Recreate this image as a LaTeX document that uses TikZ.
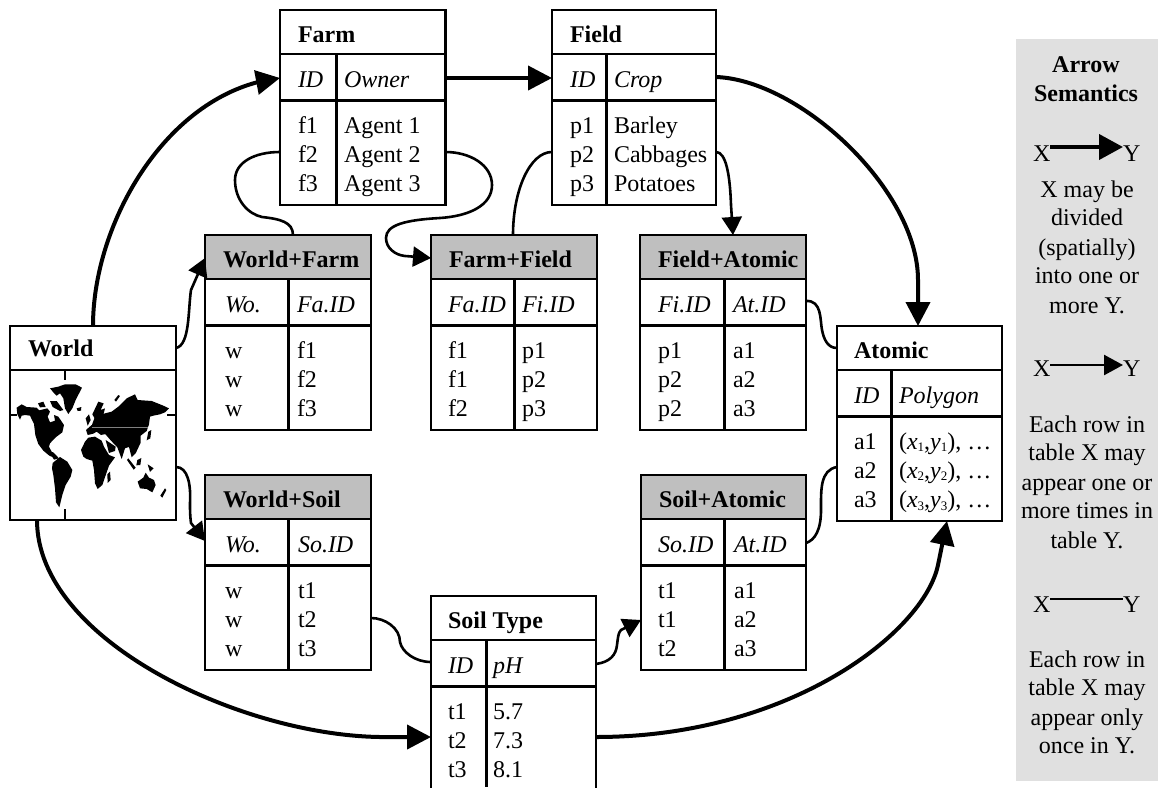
\documentclass[tikz,border=0pt]{standalone}
\usepackage{fontspec}
\setmainfont{Liberation Serif}
\usetikzlibrary{arrows.meta,bending}
\newif\ifopenb
\newcommand{\tframe}[9]{%name,left,top,right,divider,header fill,x title,x col1,x col2
  \gdef\Tn{#1}\gdef\Tt{#3}\gdef\Tc{#7}\gdef\Ta{#8}\gdef\Tb{#9}%
  \pgfmathsetmacro{\Tw}{#4-#2}%
  \ifopenb\pgfmathsetmacro{\Th}{787-#3}\else\pgfmathsetmacro{\Th}{195}\fi
  \node[tablebox,#6,minimum width=\Tw pt,minimum height=\Th pt] (#1) at (#2,#3) {};
  \draw[rule] (#1.south west) -- (#1.north west) -- (#1.north east) -- (#1.south east);
  \ifopenb\else\draw[rule] (#1.south west) -- (#1.south east);\fi
  \draw[rule] (#2,{#3+44}) -- (#4,{#3+44});
  \draw[thickrule] (#2,{#3+90}) -- (#4,{#3+90});
  \draw[thickrule] (#5,{#3+44}) -- (#5,#3+\Th);
}
\newcommand{\ttext}[9]{%title,h1,h2,a1,a2,a3,b1,b2,b3
  \node[cell,boldtext] (\Tn-title) at (\Tc,{\Tt+32}) {#1};
  \node[cell,itext] (\Tn-h1) at (\Ta,{\Tt+77}) {#2};
  \node[cell,itext] (\Tn-h2) at (\Tb,{\Tt+77}) {#3};
  \node[cell] (\Tn-a1) at (\Ta,{\Tt+123}) {#4};
  \node[cell] (\Tn-a2) at (\Ta,{\Tt+152}) {#5};
  \node[cell] (\Tn-a3) at (\Ta,{\Tt+181.5}) {#6};
  \node[cell] (\Tn-b1) at (\Tb,{\Tt+123}) {#7};
  \node[cell] (\Tn-b2) at (\Tb,{\Tt+152}) {#8};
  \node[cell] (\Tn-b3) at (\Tb,{\Tt+181.5}) {#9};
}
\newcommand{\subn}[1]{\raisebox{-2.5pt}{\fontsize{13}{13}\selectfont #1}}
\newcommand{\xy}[1]{(\textit{x}\subn{#1},\textit{y}\subn{#1}), …}
\definecolor{hdr}{HTML}{BFBFBF}
\definecolor{panel}{HTML}{E0E0E0}
\tikzset{
  tablebox/.style={anchor=north west,inner sep=0,outer sep=0},
  grayhdr/.style={},
  plainhdr/.style={},
  rule/.style={line width=2.5pt,line cap=rect},
  thickrule/.style={line width=3pt},
  cell/.style={anchor=base west,inner sep=0,outer sep=0},
  boldtext/.style={font=\fontsize{24}{29}\selectfont\bfseries},
  itext/.style={font=\fontsize{24}{29}\selectfont\itshape},
  ptext/.style={anchor=base,inner sep=0,outer sep=0},
  bigarrow/.style={line width=4pt,-{Triangle[length=24pt,width=24pt]}},
  smallarrow/.style={line width=2.6pt,-{Triangle[length=18pt,width=20pt]}},
  plainlink/.style={line width=2.6pt},
  land/.style={fill=black,draw=none},
}
\begin{document}
\begin{tikzpicture}[x=1pt,y=-1pt,font=\fontsize{24}{29}\selectfont]
\useasboundingbox (0,0) rectangle (1158,787);
\fill[panel] (1016,39) rectangle (1158,781);

% tables
\tframe{farm}{280}{10}{445.5}{336}{plainhdr}{298}{298}{344}
\ttext{Farm}{ID}{Owner}{f1}{f2}{f3}{Agent 1}{Agent 2}{Agent 3}
\tframe{field}{552}{10}{716}{606}{plainhdr}{570}{570}{614}
\ttext{Field}{ID}{Crop}{p1}{p2}{p3}{Barley}{Cabbages}{Potatoes}

\fill[hdr] (205,235) rectangle (371,279);
\fill[hdr] (431,235) rectangle (597,279);
\fill[hdr] (640,235) rectangle (806,279);
\fill[hdr] (205,475) rectangle (371,519);
\fill[hdr] (641,475) rectangle (806,519);

\tframe{wf}{205}{235}{371}{288}{grayhdr}{223}{225}{297}
\ttext{World+Farm}{Wo.}{Fa.ID}{w}{w}{w}{f1}{f2}{f3}
\tframe{ff}{431}{235}{597}{514}{grayhdr}{449}{448}{522}
\ttext{Farm+Field}{Fa.ID}{Fi.ID}{f1}{f1}{f2}{p1}{p2}{p3}
\tframe{fa}{640}{235}{806}{724}{grayhdr}{658}{658}{733}
\ttext{Field+Atomic}{Fi.ID}{At.ID}{p1}{p2}{p2}{a1}{a2}{a3}
\tframe{ws}{205}{475}{371}{288}{grayhdr}{223}{225}{298}
\ttext{World+Soil}{Wo.}{So.ID}{w}{w}{w}{t1}{t2}{t3}
\tframe{sa}{641}{475}{806}{724}{grayhdr}{659}{658}{734}
\ttext{Soil+Atomic}{So.ID}{At.ID}{t1}{t1}{t2}{a1}{a2}{a3}
\tframe{atomic}{837}{326}{1002}{891}{plainhdr}{854}{854}{899}
\ttext{Atomic}{ID}{Polygon}{a1}{a2}{a3}{\xy{1}}{\xy{2}}{\xy{3}}

\openbtrue
\tframe{soil}{431}{596}{596}{486}{plainhdr}{448}{448}{493}
\ttext{Soil Type}{ID}{pH}{t1}{t2}{t3}{5.7}{7.3}{8.1}
\openbfalse

% World table
\node[tablebox,draw=none,minimum width=166pt,minimum height=194pt] (world) at (10,326) {};
\draw[rule] (world.north west) rectangle (world.south east);
\draw[rule] (world.west |- 0,370) -- (world.east |- 0,370);
\node[cell,boldtext] (world-title) at (28,356) {World};
\draw[rule] (65,370) -- (65,379);
\draw[rule] (65,510) -- (65,520);
\draw[rule] (10,415) -- (16,415);
\draw[rule] (168,415) -- (176,415);

% map, western half
\begin{scope}[shift={(10,375)},x=0.3333pt,y=-0.3333pt]
\fill[land] (20,98)--(35,88)--(50,96)--(80,98)--(88,106)--(112,100)--(120,110)--(113,125)--(120,142)--(135,137)--(132,120)--(145,125)--(162,150)--(157,172)--(137,187)--(120,205)--(117,215)--(126,232)--(132,248)--(118,242)--(100,227)--(85,207)--(76,180)--(72,147)--(60,122)--(45,120)--(35,122)--(30,134)--(22,118)--cycle;
\fill[land] (120,40)--(145,35)--(165,28)--(197,28)--(216,38)--(197,75)--(187,100)--(175,117)--(165,100)--(160,70)--(150,55)--(140,62)--(130,52)--cycle;
\fill[land] (84,85)--(100,80)--(107,96)--(90,97)--cycle;
\fill[land] (120,78)--(140,78)--(160,105)--(150,108)--(128,96)--cycle;
\fill[land] (200,100)--(214,96)--(213,107)--(203,108)--cycle;
\fill[land] (128,264)--(150,246)--(172,260)--(187,285)--(182,305)--(167,330)--(157,360)--(148,397)--(138,382)--(135,340)--(130,300)--(126,280)--cycle;
\fill[land] (118,230)--(130,232)--(147,250)--(132,254)--cycle;
\end{scope}
% map, eastern half
\begin{scope}[shift={(85,375)},x=0.3333pt,y=-0.3333pt]
\fill[land] (20,152)--(30,125)--(60,115)--(80,110)--(100,95)--(125,70)--(150,58)--(158,75)--(200,78)--(235,92)--(252,100)--(240,112)--(225,118)--(205,122)--(195,125)--(192,148)--(185,168)--(167,182)--(167,203)--(152,235)--(140,247)--(132,216)--(120,220)--(110,252)--(97,217)--(78,197)--(65,182)--(50,166)--(30,162)--cycle;
\fill[land] (3,165)--(20,150)--(52,160)--(62,177)--(48,180)--(35,170)--(25,176)--(8,180)--cycle;
\fill[land] (22,118)--(40,80)--(56,85)--(47,105)--(60,100)--(55,120)--(30,132)--cycle;
\fill[land] (2,130)--(12,118)--(17,135)--(8,152)--cycle;
\fill[land] (88,75)--(100,60)--(105,63)--(93,80)--cycle;
\fill[land] (-12,225)--(0,200)--(10,188)--(30,185)--(50,197)--(57,215)--(72,240)--(90,247)--(72,272)--(64,295)--(52,330)--(38,342)--(30,325)--(27,285)--(22,257)--(5,252)--(-5,245)--cycle;
\fill[land] (67,298)--(75,290)--(77,315)--(68,324)--cycle;
\fill[land] (62,195)--(92,215)--(90,228)--(72,234)--cycle;
\fill[land] (190,170)--(199,165)--(196,190)--(185,196)--cycle;
\fill[land] (130,250)--(152,278)--(146,284)--(126,255)--cycle;
\fill[land] (157,255)--(169,249)--(166,270)--(154,271)--cycle;
\fill[land] (188,268)--(206,280)--(195,291)--cycle;
\fill[land] (158,320)--(175,308)--(182,293)--(192,308)--(207,315)--(212,330)--(202,352)--(185,342)--(165,340)--cycle;
\fill[land] (226,362)--(240,340)--(244,345)--(232,368)--cycle;
\draw[gray,line width=0.6pt] (20,157) -- (190,157);
\end{scope}

% thick arrows
\draw[bigarrow] (world.north west -| 93,0) .. controls (93,220) and (170,90) .. (farm.west |- 0,78);
\draw[bigarrow] (farm.east |- 0,78) -- (field.west |- 0,78);
\draw[bigarrow] (field.east |- 0,77) .. controls (800,80) and (918,190) .. (918,280) -- (atomic.north -| 918,0);
\draw[bigarrow] (world.south west -| 37,0) .. controls (37,640) and (240,735) .. (380,737) -- (soil.west |- 0,737);
\draw[bigarrow] (soil.east |- 0,737) .. controls (790,737) and (924,632) .. (938,565) -- (atomic.south -| 947,0);

% thin arrows
\draw[smallarrow] (world.east |- 0,348) .. controls (190,345) and (188,310) .. (191,290) -- (wf.west |- 0,258);
\draw[smallarrow] (world.east |- 0,467) .. controls (188,467) and (191,485) .. (190,503) .. controls (190,511) and (190,515) .. (191,523) -- (ws.west |- 0,541);
\draw[plainlink] (farm.west |- 0,152) .. controls (255,152) and (235,162) .. (235,180) .. controls (235,200) and (248,214) .. (262,217) .. controls (280,219) and (293,222) .. (wf.north -| 293,0);
\draw[smallarrow] (farm.east |- 0,152) .. controls (470,152) and (492,165) .. (492,185) .. controls (492,205) and (470,216) .. (440,218) .. controls (405,220) and (386,225) .. (386,238) .. controls (386,248) and (395,255) .. (405,256) -- (ff.west |- 0,258);
\draw[plainlink] (field.west |- 0,152) .. controls (530,152) and (513,190) .. (ff.north -| 513,0);
\draw[smallarrow] (field.east |- 0,152) .. controls (726,152) and (730,175) .. (731,205) -- (fa.north -| 733,0);
\draw[plainlink] (fa.east |- 0,301) .. controls (822,300) and (820,320) .. (822,330) .. controls (824,340) and (828,348) .. (atomic.west |- 0,348);
\draw[plainlink] (atomic.west |- 0,467) .. controls (820,470) and (821,490) .. (821,510) .. controls (821,530) and (815,540) .. (sa.east |- 0,543);
\draw[plainlink] (ws.east |- 0,618) .. controls (385,618) and (400,628) .. (400,642) .. controls (402,652) and (415,662) .. (soil.west |- 0,662);
\draw[smallarrow] (soil.east |- 0,664) .. controls (610,662) and (616,655) .. (617,645) .. controls (618,638) and (618,633) .. (621,630) -- (sa.west |- 0,620);

% legend
\node[ptext,boldtext] (lg-a) at (1086,72) {Arrow};
\node[ptext,boldtext] (lg-b) at (1086,101) {Semantics};
\node[cell] (x1) at (1033,161) {X};
\node[cell] (y1) at (1123,161) {Y};
\draw[line width=4pt,-{Triangle[length=24pt,width=25pt]}] (x1.east |- 0,147) -- (y1.west |- 0,147);
\node[ptext] (t1a) at (1087,197) {X may be};
\node[ptext] (t1b) at (1087,225) {divided};
\node[ptext] (t1c) at (1087,255) {(spatially)};
\node[ptext] (t1d) at (1087,283) {into one or};
\node[ptext] (t1e) at (1087,313) {more Y.};
\node[cell] (x2) at (1033,376) {X};
\node[cell] (y2) at (1123,376) {Y};
\draw[line width=2.5pt,-{Triangle[length=19pt,width=20pt]}] (x2.east |- 0,365) -- (y2.west |- 0,365);
\node[ptext] (t2a) at (1087,432) {Each row in};
\node[ptext] (t2b) at (1087,460) {table X may};
\node[ptext] (t2c) at (1087,490) {appear one or};
\node[ptext] (t2d) at (1087,518) {more times in};
\node[ptext] (t2e) at (1087,548) {table Y.};
\node[cell] (x3) at (1033,612) {X};
\node[cell] (y3) at (1123,612) {Y};
\draw[line width=2.8pt] (x3.east |- 0,599) -- (y3.west |- 0,599);
\node[ptext] (t3a) at (1087,667) {Each row in};
\node[ptext] (t3b) at (1087,695) {table X may};
\node[ptext] (t3c) at (1087,725) {appear only};
\node[ptext] (t3d) at (1087,753) {once in Y.};
\end{tikzpicture}
\end{document}
